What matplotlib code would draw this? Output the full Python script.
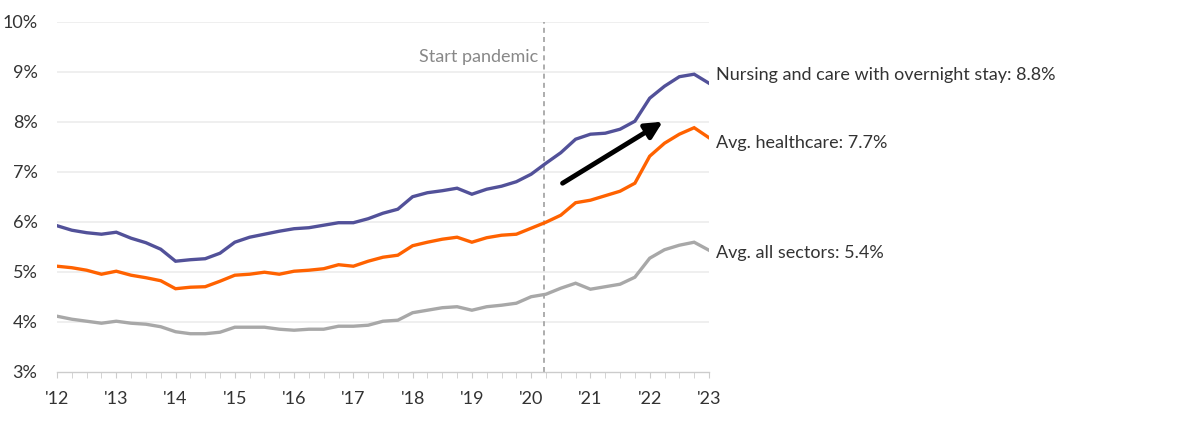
import matplotlib
matplotlib.use("Agg")
import matplotlib.pyplot as plt
import numpy as np

plt.rcParams['font.family'] = ['Lato', 'DejaVu Sans']

# Quarterly data 2012Q1 .. 2023Q1
nursing = [5.92, 5.83, 5.78, 5.75, 5.79, 5.67, 5.58, 5.45, 5.21, 5.24, 5.26, 5.37,
           5.59, 5.69, 5.75, 5.81, 5.86, 5.88, 5.93, 5.98, 5.98, 6.06, 6.17, 6.25,
           6.50, 6.58, 6.62, 6.67, 6.55, 6.65, 6.71, 6.80, 6.95, 7.17, 7.38, 7.65,
           7.75, 7.77, 7.85, 8.01, 8.47, 8.71, 8.90, 8.95, 8.77]
healthcare = [5.11, 5.08, 5.03, 4.95, 5.01, 4.93, 4.88, 4.82, 4.66, 4.69, 4.70, 4.81,
              4.93, 4.95, 4.99, 4.95, 5.01, 5.03, 5.06, 5.14, 5.11, 5.21, 5.29, 5.33,
              5.52, 5.59, 5.65, 5.69, 5.59, 5.68, 5.73, 5.75, 5.87, 5.99, 6.13, 6.38,
              6.43, 6.52, 6.61, 6.77, 7.31, 7.57, 7.75, 7.88, 7.68]
all_sectors = [4.11, 4.05, 4.01, 3.97, 4.01, 3.97, 3.95, 3.90, 3.80, 3.76, 3.76, 3.79,
               3.89, 3.89, 3.89, 3.85, 3.83, 3.85, 3.85, 3.91, 3.91, 3.93, 4.01, 4.03,
               4.18, 4.23, 4.28, 4.30, 4.23, 4.30, 4.33, 4.37, 4.50, 4.55, 4.67, 4.77,
               4.65, 4.70, 4.75, 4.89, 5.27, 5.44, 5.53, 5.59, 5.43]
series_labels = ["Nursing and care with overnight stay: 8.8%",
                 "Avg. healthcare: 7.7%",
                 "Avg. all sectors: 5.4%"]
colors = ["#525199", "#FF6200", "#A8A8A8"]
year_ticks = list(range(2012, 2024))
year_labels = ["'" + str(y)[2:] for y in year_ticks]
y_ticks = [3, 4, 5, 6, 7, 8, 9, 10]
pandemic_x = 2020.22
arrow_start = (2020.53, 6.77)
arrow_end = (2022.22, 8.0)

x = 2012 + np.arange(len(nursing)) * 0.25
label_y_offsets = [6, -4, -2]  # points, label placement relative to last value

fig = plt.figure(figsize=(12, 4.24), dpi=100)
ax = fig.add_axes([0.0475, 0.1233, 0.5433, 0.8255])

for yv in y_ticks[1:]:
    ax.axhline(yv, color="#EEEEEE", lw=1.3, zorder=0)

for vals, c, lab, off in zip([nursing, healthcare, all_sectors], colors, series_labels,
                             label_y_offsets):
    ax.plot(x, vals, color=c, lw=2.4, solid_joinstyle='miter', zorder=3)
    ax.annotate(lab, xy=(x[-1], vals[-1]), xytext=(5, off), textcoords='offset points',
                va='center', ha='left', fontsize=13, color="#333333",
                annotation_clip=False)

ax.axvline(pandemic_x, color="#A0A0A0", lw=1.2, ls=(0, (3, 2.5)), zorder=2)
ax.text(pandemic_x - 0.1, 9.3, "Start pandemic", ha='right', va='center',
        fontsize=13, color="#888888")

ax.annotate("", xy=arrow_end, xytext=arrow_start,
            arrowprops=dict(arrowstyle='-|>,head_length=1.0,head_width=0.5',
                            color='black', lw=3.5, shrinkA=0, shrinkB=0),
            zorder=5)

ax.set_xlim(2012, 2023)
ax.set_ylim(3, 10)
ax.set_yticks(y_ticks)
ax.set_yticklabels([f"{v}%" for v in y_ticks])
ax.set_xticks(year_ticks)
ax.set_xticklabels(year_labels)
ax.set_xticks(2012 + np.arange(45) * 0.25, minor=True)

for s in ['top', 'right', 'left']:
    ax.spines[s].set_visible(False)
ax.spines['bottom'].set_color("#CCCCCC")
ax.spines['bottom'].set_linewidth(1.0)

ax.tick_params(axis='y', length=0, pad=14, labelsize=13, labelcolor="#333333")
ax.tick_params(axis='x', which='both', length=4, color="#CCCCCC", direction='out',
               pad=10, labelsize=13, labelcolor="#333333")
ax.tick_params(axis='x', which='minor', length=4)

fig.savefig("out.png", dpi=100, facecolor='white')
